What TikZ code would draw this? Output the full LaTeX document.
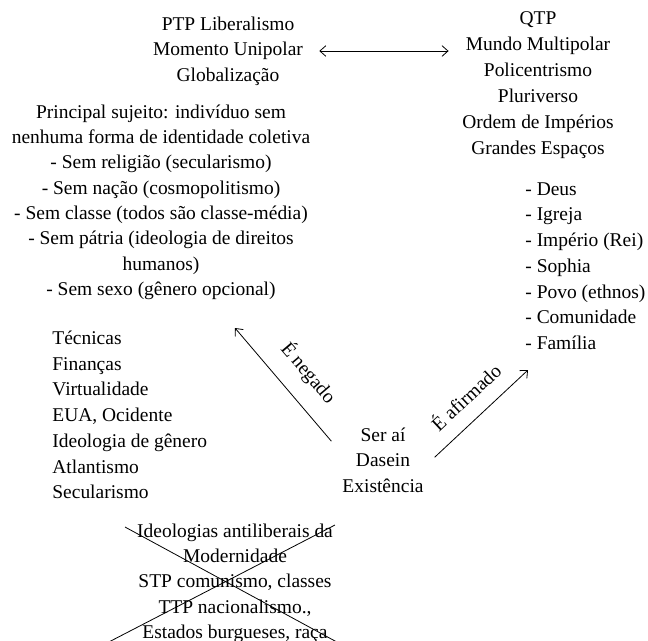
\documentclass[tikz,border=0pt]{standalone}
\usepackage{fontspec}
\setmainfont{Liberation Serif}
\usetikzlibrary{arrows.meta}
\begin{document}
\begin{tikzpicture}[x=0.75pt,y=-0.75pt,line width=0.6pt,
    >={Straight Barb[length=4.5pt,width=8pt]},
    txt/.style={align=center,inner sep=2pt,font=\fontsize{14.6}{19}\selectfont},
    lst/.style={align=left,anchor=west,inner sep=0pt,font=\fontsize{14.6}{19.3}\selectfont}]
    \useasboundingbox (0,0) rectangle (648,640);
    \clip (0,0) rectangle (648,640);
    \node[txt] (ptp) at (228,51) {PTP Liberalismo\\Momento Unipolar\\Globalização};
    \node[txt,font=\fontsize{14.6}{19.5}\selectfont] (qtp) at (538,85) {QTP\\Mundo Multipolar\\Policentrismo\\Pluriverso\\Ordem de Impérios\\Grandes Espaços};
    \draw[<->,shorten <=10pt,shorten >=8pt] (ptp.east) -- (ptp.east -| qtp.west);
    \node[txt] (sujeito) at (161,202) {Principal sujeito: indivíduo sem\\nenhuma forma de identidade coletiva\\- Sem religião (secularismo)\\- Sem nação (cosmopolitismo)\\- Sem classe (todos são classe-média)\\- Sem pátria (ideologia de direitos\\humanos)\\- Sem sexo (gênero opcional)};
    \node[lst] (afirma) at (525,266) {- Deus\\- Igreja\\- Império (Rei)\\- Sophia\\- Povo (ethnos)\\- Comunidade\\- Família};
    \node[lst] (nega) at (52,415) {Técnicas\\Finanças\\Virtualidade\\EUA, Ocidente\\Ideologia de gênero\\Atlantismo\\Secularismo};
    \node[txt,inner xsep=8pt] (dasein) at (383,460) {Ser aí\\Dasein\\Existência};
    \coordinate (negtip) at (235,328);
    \coordinate (afitip) at (528,370);
    \draw[->] (dasein.160) -- node[txt,sloped,above=10pt,pos=0.45] {É negado} (negtip);
    \draw[->] (dasein.3) -- node[txt,sloped,above=9pt] {É afirmado} (afitip);
    % ideologias riscadas
    \node[txt] (antilib) at (235,583) {Ideologias antiliberais da\\Modernidade\\STP comunismo, classes\\TTP nacionalismo.,\\Estados burgueses, raça};
    \draw (125,527) -- (370,660);
    \draw (335,525) -- (74,660);
\end{tikzpicture}
\end{document}
